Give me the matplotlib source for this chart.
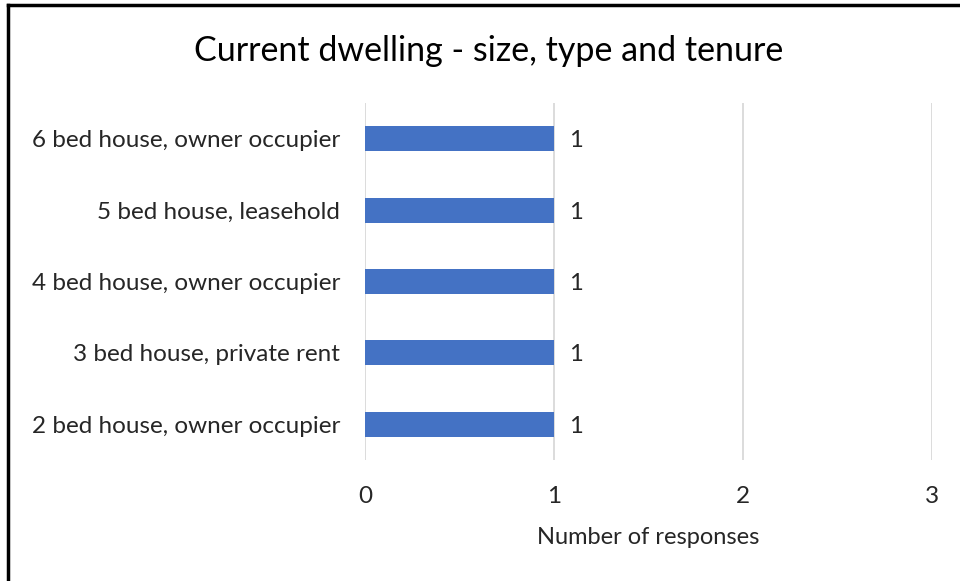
import matplotlib
matplotlib.use("Agg")
import matplotlib.pyplot as plt
from matplotlib.lines import Line2D

plt.rcParams['font.family'] = ['Lato', 'DejaVu Sans']

categories = [
    "2 bed house, owner occupier",
    "3 bed house, private rent",
    "4 bed house, owner occupier",
    "5 bed house, leasehold",
    "6 bed house, owner occupier",
]
responses = [1, 1, 1, 1, 1]
x_ticks = [0, 1, 2, 3]

fig = plt.figure(figsize=(9.6, 5.81), dpi=100)
ax = fig.add_axes([0.3802, 0.2083, 0.5906, 0.6144])

pos = list(range(len(categories)))
bars = ax.barh(pos, responses, height=0.35, color='#4472C4', zorder=3)
for b, v in zip(bars, responses):
    ax.text(v + 0.08, b.get_y() + b.get_height() / 2, str(v),
            va='center_baseline', ha='left', fontsize=17, color='#262626')

ax.set_xlim(0, 3)
ax.set_ylim(-0.5, len(categories) - 0.5)
ax.set_xticks(x_ticks)
ax.set_yticks(pos)
ax.set_yticklabels(categories)
ax.grid(axis='x', color='#d9d9d9', linewidth=1.3, zorder=0)
for s in ax.spines.values():
    s.set_visible(False)
ax.tick_params(axis='both', length=0, labelsize=17.5, labelcolor='#262626')
ax.tick_params(axis='y', pad=18)
ax.tick_params(axis='x', pad=19)
ax.set_xlabel('Number of responses', fontsize=17, color='#262626', labelpad=14)

fig.text(0.509, 0.912, 'Current dwelling - size, type and tenure',
         ha='center', va='center', fontsize=24.5, color='#000000')

# frame edges on left and top
fig.add_artist(Line2D([0.0083, 0.0083], [0, 0.9914], color='black', linewidth=2.5))
fig.add_artist(Line2D([0.0083, 1.0], [0.9914, 0.9914], color='black', linewidth=2.5))

fig.savefig('out.png', dpi=100)
